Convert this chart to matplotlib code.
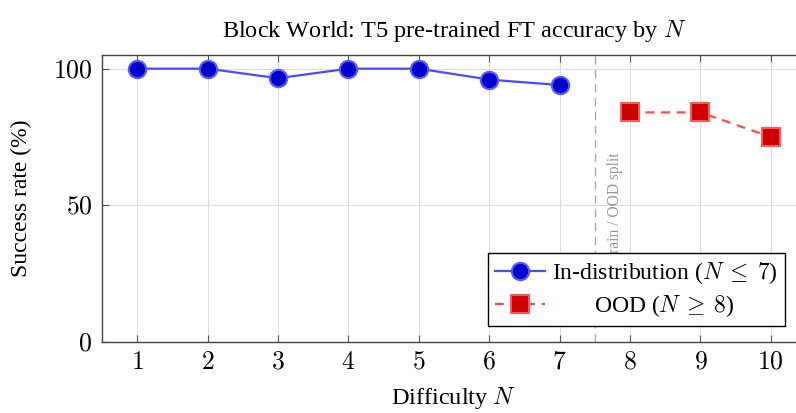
import matplotlib
matplotlib.use("Agg")
import matplotlib.pyplot as plt  # noqa: E402
from matplotlib.ticker import FuncFormatter  # noqa: E402

# data
in_n = [1, 2, 3, 4, 5, 6, 7]
in_acc = [100, 100, 96.5, 100, 100, 96, 94]
ood_n = [8, 9, 10]
ood_acc = [84, 84, 75]
split_at = 7.5

plt.rcParams["font.family"] = ["Liberation Serif", "DejaVu Serif"]
plt.rcParams["mathtext.fontset"] = "cm"

fig = plt.figure(figsize=(7.96, 4.13), dpi=100)
# axes run slightly past the right edge of the figure, as in the original
ax = fig.add_axes([102 / 796, 71 / 413, 704 / 796, 287 / 413])

ax.plot(in_n, in_acc, "-o", color="#4a4aff", lw=1.6, ms=12.5,
        mfc="#0000cc", mec="#5a5aff", mew=1.5,
        label=r"In-distribution ($N\:\leq\:7$)", zorder=3)
ax.plot(ood_n, ood_acc, "--s", color="#ff4a4a", lw=1.6, ms=13,
        mfc="#cc0000", mec="#ff5a5a", mew=1.5, dashes=(4, 3),
        label=r"OOD ($N\:\geq\:8$)", zorder=3)

ax.axvline(split_at, color="#aaaaaa", lw=1.0, dashes=(6, 4), zorder=2)
ax.text(split_at + 0.29, 69.5, "Train / OOD split", rotation=90, color="#999999",
        fontsize=11.2, ha="center", va="top", zorder=2)

ax.set_xlim(0.5, 10.5)
ax.set_ylim(0, 105)
ax.set_xticks(range(1, 11))
ax.set_yticks([0, 50, 100])
fmt = FuncFormatter(lambda v, p: f"${v:g}$")
ax.xaxis.set_major_formatter(fmt)
ax.yaxis.set_major_formatter(fmt)
ax.tick_params(direction="in", length=5, width=0.8, color="#555555",
               top=True, right=True, labelsize=18.5, pad=7)
ax.grid(color="#dddddd", lw=0.8, zorder=0)
ax.set_axisbelow(True)
for s in ax.spines.values():
    s.set_color("#444444")
    s.set_linewidth(1.0)

ax.set_xlabel(r"Difficulty $N$", fontsize=17.5, labelpad=8)
ax.set_ylabel(r"Success rate (%)", fontsize=17, labelpad=15)
ax.set_title(r"Block World: T5 pre-trained FT accuracy by $N$", fontsize=17.5, pad=13)

leg = ax.legend(loc="lower right", bbox_to_anchor=(0.970, 0.056), borderaxespad=0,
                fontsize=17, fancybox=False, framealpha=1, edgecolor="black",
                handlelength=2.1, handletextpad=0.3, borderpad=0.3, labelspacing=0.3)
leg.get_frame().set_linewidth(1.0)
leg.set_zorder(5)
# centre the shorter label like the original
leg.get_texts()[1].set_position((42, 0))

fig.savefig("out.png", dpi=100)
plt.close(fig)
